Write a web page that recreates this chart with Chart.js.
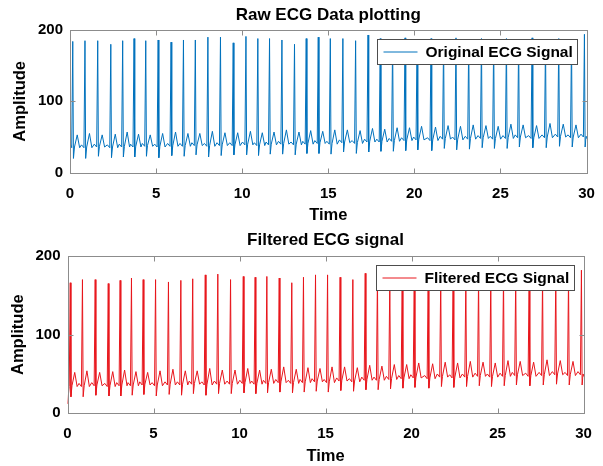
<!DOCTYPE html>
<html>
<head>
<meta charset="utf-8">
<title>ECG</title>
<script src="https://cdn.jsdelivr.net/npm/chart.js@4.4.0/dist/chart.umd.min.js"></script>
<style>
    body { margin: 0; background: #fff; }
    #wrap { position: relative; width: 603px; height: 466px; overflow: hidden; }
    canvas { position: absolute; left: 0; }
</style>
</head>
<body>
<div id="wrap">
    <canvas id="chart_raw" width="603" height="230" style="top:0px"></canvas>
    <canvas id="chart_filtered" width="603" height="241" style="top:225px"></canvas>
</div>
<script>
// Time (s), one row per heart beat: P, pre-R, R, S, post-S, T, post-T
var tiempo = [
    0, 0.10, 0.16, 0.20, 0.26, 0.42, 0.56,
    0.67, 0.81, 0.87, 0.91, 0.97, 1.13, 1.27,
    1.41, 1.55, 1.61, 1.65, 1.71, 1.87, 2.01,
    2.17, 2.31, 2.37, 2.41, 2.47, 2.63, 2.77,
    2.86, 3.00, 3.06, 3.10, 3.16, 3.32, 3.46,
    3.52, 3.66, 3.72, 3.76, 3.82, 3.98, 4.12,
    4.20, 4.34, 4.40, 4.44, 4.50, 4.66, 4.80,
    4.92, 5.06, 5.12, 5.16, 5.22, 5.38, 5.52,
    5.67, 5.81, 5.87, 5.91, 5.97, 6.13, 6.27,
    6.39, 6.53, 6.59, 6.63, 6.69, 6.85, 6.99,
    7.08, 7.22, 7.28, 7.32, 7.38, 7.54, 7.68,
    7.81, 7.95, 8.01, 8.05, 8.11, 8.27, 8.41,
    8.54, 8.68, 8.74, 8.78, 8.84, 9.00, 9.14,
    9.28, 9.42, 9.48, 9.52, 9.58, 9.74, 9.88,
    10.02, 10.16, 10.22, 10.26, 10.32, 10.48, 10.62,
    10.71, 10.85, 10.91, 10.95, 11.01, 11.17, 11.31,
    11.39, 11.53, 11.59, 11.63, 11.69, 11.85, 11.99,
    12.11, 12.25, 12.31, 12.35, 12.41, 12.57, 12.71,
    12.84, 12.98, 13.04, 13.08, 13.14, 13.30, 13.44,
    13.52, 13.66, 13.72, 13.76, 13.82, 13.98, 14.12,
    14.22, 14.36, 14.42, 14.46, 14.52, 14.68, 14.82,
    14.92, 15.06, 15.12, 15.16, 15.22, 15.38, 15.52,
    15.65, 15.79, 15.85, 15.89, 15.95, 16.11, 16.25,
    16.39, 16.53, 16.59, 16.63, 16.69, 16.85, 16.99,
    17.11, 17.25, 17.31, 17.35, 17.41, 17.57, 17.71,
    17.82, 17.96, 18.02, 18.06, 18.12, 18.28, 18.42,
    18.54, 18.68, 18.74, 18.78, 18.84, 19.00, 19.14,
    19.26, 19.40, 19.46, 19.50, 19.56, 19.72, 19.86,
    19.96, 20.10, 20.16, 20.20, 20.26, 20.42, 20.56,
    20.77, 20.91, 20.97, 21.01, 21.07, 21.23, 21.37,
    21.50, 21.64, 21.70, 21.74, 21.80, 21.96, 22.10,
    22.22, 22.36, 22.42, 22.46, 22.52, 22.68, 22.82,
    22.96, 23.10, 23.16, 23.20, 23.26, 23.42, 23.56,
    23.70, 23.84, 23.90, 23.94, 24.00, 24.16, 24.30,
    24.41, 24.55, 24.61, 24.65, 24.71, 24.87, 25.01,
    25.15, 25.29, 25.35, 25.39, 25.45, 25.61, 25.75,
    25.86, 26.00, 26.06, 26.10, 26.16, 26.32, 26.46,
    26.64, 26.78, 26.84, 26.88, 26.94, 27.10, 27.24,
    27.42, 27.56, 27.62, 27.66, 27.72, 27.88, 28.02,
    28.19, 28.33, 28.39, 28.43, 28.49, 28.65, 28.79,
    28.93, 29.07, 29.13, 29.17, 29.23, 29.39, 29.53,
    29.68, 29.82, 29.88, 29.92, 29.98, 30.00
];

// Raw ECG amplitude
var ecg_raw = [
    42, 35, 184, 20, 36, 53, 35,
    39, 35, 185, 20, 36, 55, 35,
    40, 36, 185, 23, 37, 53, 36,
    39, 35, 180, 21, 36, 54, 35,
    40, 36, 185, 22, 37, 57, 36,
    40, 36, 188, 22, 37, 54, 36,
    41, 37, 185, 23, 38, 53, 37,
    40, 36, 186, 21, 37, 55, 36,
    41, 37, 183, 24, 38, 57, 37,
    41, 37, 186, 23, 38, 55, 37,
    42, 38, 186, 25, 39, 55, 38,
    41, 37, 190, 22, 38, 58, 37,
    42, 38, 190, 24, 39, 56, 38,
    42, 38, 182, 25, 39, 56, 38,
    43, 39, 191, 25, 40, 58, 39,
    42, 38, 188, 24, 39, 56, 38,
    43, 39, 188, 26, 40, 57, 39,
    44, 40, 186, 26, 41, 60, 40,
    43, 39, 180, 25, 40, 57, 39,
    44, 40, 188, 27, 41, 59, 40,
    45, 41, 190, 27, 42, 58, 41,
    44, 40, 188, 26, 41, 60, 40,
    46, 42, 188, 29, 43, 60, 42,
    45, 41, 185, 27, 42, 59, 41,
    47, 43, 193, 29, 44, 62, 43,
    47, 43, 188, 30, 44, 61, 43,
    48, 44, 186, 30, 45, 63, 44,
    49, 45, 189, 31, 46, 63, 45,
    50, 46, 187, 32, 47, 65, 46,
    49, 45, 188, 31, 46, 64, 45,
    51, 47, 186, 34, 48, 66, 47,
    50, 46, 189, 32, 47, 65, 46,
    51, 47, 187, 33, 48, 67, 47,
    52, 48, 188, 35, 49, 66, 48,
    51, 47, 186, 34, 48, 65, 47,
    52, 48, 188, 34, 49, 68, 48,
    53, 49, 187, 36, 50, 67, 49,
    52, 48, 189, 35, 49, 66, 48,
    53, 49, 186, 35, 50, 69, 49,
    54, 50, 188, 37, 51, 68, 50,
    53, 49, 187, 36, 50, 67, 49,
    54, 50, 194, 36, 51, 48
];

// Filtered ECG amplitude
var ecg_filtrada = [
    12, 34, 166, 21, 35, 52, 34,
    38, 34, 170, 21, 35, 54, 34,
    39, 35, 170, 23, 36, 52, 35,
    38, 34, 165, 22, 35, 53, 34,
    39, 35, 169, 22, 36, 55, 35,
    39, 35, 172, 23, 36, 53, 35,
    40, 36, 170, 24, 37, 52, 36,
    39, 35, 170, 22, 36, 54, 35,
    40, 36, 167, 24, 37, 56, 36,
    40, 36, 169, 23, 37, 54, 36,
    41, 37, 171, 25, 38, 54, 37,
    40, 36, 176, 23, 37, 57, 36,
    41, 37, 177, 25, 38, 55, 37,
    41, 37, 170, 25, 38, 55, 37,
    42, 38, 174, 26, 39, 57, 38,
    41, 37, 173, 25, 38, 55, 37,
    42, 38, 174, 26, 39, 56, 38,
    43, 39, 172, 27, 40, 59, 39,
    42, 38, 166, 26, 39, 56, 38,
    43, 39, 173, 27, 40, 58, 39,
    44, 40, 176, 28, 41, 57, 40,
    43, 39, 176, 27, 40, 59, 39,
    45, 41, 173, 29, 42, 59, 41,
    44, 40, 170, 28, 41, 58, 40,
    46, 42, 178, 30, 43, 61, 42,
    46, 42, 174, 30, 43, 60, 42,
    47, 43, 172, 31, 44, 62, 43,
    48, 44, 175, 32, 45, 62, 44,
    49, 45, 173, 33, 46, 64, 45,
    48, 44, 174, 32, 45, 63, 44,
    50, 46, 172, 34, 47, 65, 46,
    49, 45, 175, 33, 46, 64, 45,
    50, 46, 173, 34, 47, 66, 46,
    51, 47, 174, 35, 48, 65, 47,
    50, 46, 172, 34, 47, 64, 46,
    51, 47, 175, 35, 48, 67, 47,
    52, 48, 173, 36, 49, 66, 48,
    51, 47, 174, 35, 48, 65, 47,
    52, 48, 172, 36, 49, 68, 48,
    53, 49, 175, 37, 50, 67, 49,
    52, 48, 173, 36, 49, 66, 48,
    53, 49, 182, 36, 50, 47
];

var ticks_x = [0, 5, 10, 15, 20, 25, 30];
var ticks_y = [0, 100, 200];

var fuente = '"Liberation Sans", Arial, Helvetica, sans-serif';
var color_caja = '#8c8c8c';


// MATLAB style box with inner ticks and legend inside the axes
var caja_plugin = {
    id: 'caja',
    afterDatasetsDraw: function (chart) {
        var ctx = chart.ctx;
        var a = chart.chartArea;
        var sx = chart.scales.x;
        var sy = chart.scales.y;
        var l = Math.round(a.left) + 0.5, r = Math.round(a.right) + 0.5;
        var t = Math.round(a.top) + 0.5, b = Math.round(a.bottom) + 0.5;

        ctx.save();
        ctx.strokeStyle = color_caja;
        ctx.lineWidth = 1;
        ctx.beginPath();
        ticks_x.forEach(function (v) {
            var px = Math.round(sx.getPixelForValue(v)) + 0.5;
            ctx.moveTo(px, b); ctx.lineTo(px, b - 5);
            ctx.moveTo(px, t); ctx.lineTo(px, t + 5);
        });
        ticks_y.forEach(function (v) {
            var py = Math.round(sy.getPixelForValue(v)) + 0.5;
            ctx.moveTo(l, py); ctx.lineTo(l + 5, py);
            ctx.moveTo(r, py); ctx.lineTo(r - 5, py);
        });
        ctx.stroke();
        ctx.strokeRect(l, t, r - l, b - t);

        // legend
        var ds = chart.data.datasets[0];
        ctx.font = 'bold 15.5px ' + fuente;
        var ancho = Math.round(6 + 34 + 8 + ctx.measureText(ds.label).width + 5);
        var alto = 25;
        var x0 = Math.round(a.right - 10 - ancho) + 0.5;
        var y0 = Math.round(a.top + 9) + 0.5;
        ctx.fillStyle = '#fff';
        ctx.fillRect(x0, y0, ancho, alto);
        ctx.strokeStyle = '#4d4d4d';
        ctx.strokeRect(x0, y0, ancho, alto);
        ctx.strokeStyle = ds.borderColor;
        ctx.beginPath();
        ctx.moveTo(x0 + 6, y0 + alto / 2);
        ctx.lineTo(x0 + 40, y0 + alto / 2);
        ctx.stroke();
        ctx.fillStyle = '#000';
        ctx.textBaseline = 'middle';
        ctx.textAlign = 'left';
        ctx.fillText(ds.label, x0 + 48, y0 + alto / 2 + 1);
        ctx.restore();
    }
};


function crear_config(valores, color, titulo, etiqueta, aj) {
    return {
        type: 'line',
        data: {
            datasets: [{
                label: etiqueta,
                data: tiempo.map(function (t, i) { return { x: t, y: valores[i] }; }),
                borderColor: color,
                borderWidth: 1,
                pointRadius: 0,
                tension: 0,
                fill: false
            }]
        },
        options: {
            responsive: false,
            animation: false,
            events: [],
            layout: { padding: { left: 0, right: aj.derecha, top: 0, bottom: 0 } },
            plugins: {
                legend: { display: false },
                tooltip: { enabled: false },
                title: {
                    display: true,
                    fullSize: false,
                    text: titulo,
                    color: '#000',
                    font: { family: fuente, size: 17, weight: 'bold' },
                    padding: { top: aj.titulo_arriba, bottom: aj.titulo_abajo }
                }
            },
            scales: {
                x: {
                    type: 'linear',
                    min: 0,
                    max: 30,
                    afterBuildTicks: function (s) { s.ticks = ticks_x.map(function (v) { return { value: v }; }); },
                    afterFit: function (s) {
                        s.height = aj.alto_x;
                        s.paddingLeft = 0;
                        s.paddingRight = 0;
                    },
                    grid: { display: false, drawTicks: false },
                    border: { display: false },
                    ticks: {
                        color: '#000',
                        maxRotation: 0,
                        padding: 12,
                        font: { family: fuente, size: 15, weight: 'bold' }
                    },
                    title: {
                        display: true,
                        text: 'Time',
                        color: '#000',
                        font: { family: fuente, size: 16.5, weight: 'bold' },
                        padding: { top: 0, bottom: aj.time_abajo }
                    }
                },
                y: {
                    min: 0,
                    max: 200,
                    afterBuildTicks: function (s) { s.ticks = ticks_y.map(function (v) { return { value: v }; }); },
                    afterFit: function (s) {
                        s.width = aj.ancho_y;
                        s.paddingTop = 0;
                        s.paddingBottom = 0;
                    },
                    grid: { display: false, drawTicks: false },
                    border: { display: false },
                    ticks: {
                        color: '#000',
                        padding: 7,
                        font: { family: fuente, size: 15, weight: 'bold' }
                    },
                    title: {
                        display: true,
                        text: 'Amplitude',
                        color: '#000',
                        font: { family: fuente, size: 16.5, weight: 'bold' },
                        padding: { top: aj.amp_izq, bottom: 0 }
                    }
                }
            }
        },
        plugins: [caja_plugin]
    };
}


// Raw ECG
var config_raw = crear_config(ecg_raw, 'rgb(0, 114, 189)', 'Raw ECG Data plotting', 'Original ECG Signal',
    { derecha: 16.5, titulo_arriba: 4.8, titulo_abajo: 4.8, alto_x: 57.3, time_abajo: 5, ancho_y: 70, amp_izq: 11 });
var canvas_raw = document.getElementById('chart_raw');
var chart_raw = new Chart(canvas_raw, config_raw);

// Filtered ECG
var config_filtrada = crear_config(ecg_filtrada, 'rgb(232, 22, 28)', 'Filtered ECG signal', 'Flitered ECG Signal',
    { derecha: 19.5, titulo_arriba: 4.8, titulo_abajo: 5.8, alto_x: 52.7, time_abajo: 0, ancho_y: 67.5, amp_izq: 9 });
var canvas_filtrada = document.getElementById('chart_filtered');
var chart_filtrada = new Chart(canvas_filtrada, config_filtrada);
</script>
</body>
</html>
